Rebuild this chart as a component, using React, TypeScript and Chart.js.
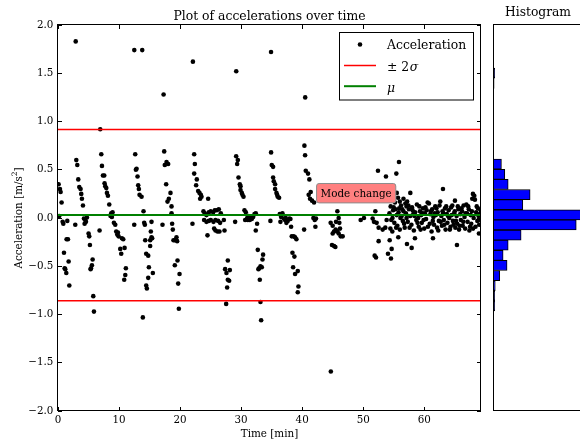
import React, { useEffect, useRef } from 'react';
import { Chart, registerables } from 'chart.js';

Chart.register(...registerables);

// ---------- data (time in minutes, acceleration in m/s^2) ----------
const outliers: [number, number][] = [
  [2.9, 1.83], [12.5, 1.74], [13.8, 1.74], [17.3, 1.28], [22.1, 1.62],
  [29.2, 1.52], [34.9, 1.72], [40.5, 1.25], [44.7, -1.59],
];

const seg0to7: [number, number][] = [
  [0.10, 0.35], [0.21, 0.02], [0.32, 0.30], [0.43, 0.27], [0.59, 0.16], [0.76, -0.04], [0.87, -0.06],
  [0.98, -0.36], [1.09, -0.52], [1.19, -0.53], [1.36, -0.57], [1.41, -0.22], [1.52, -0.03], [1.63, -0.22],
  [1.74, -0.45], [1.85, -0.70], [2.83, -0.07], [3.00, 0.60], [3.16, 0.55], [3.32, 0.40], [3.49, 0.32],
  [3.70, 0.30], [3.81, 0.25], [3.92, 0.20], [4.09, 0.13], [4.25, -0.005], [4.36, -0.06], [4.47, -0.02],
  [4.58, -0.04], [4.74, 0.005], [5.01, -0.16], [5.12, -0.19], [5.23, -0.28], [5.34, -0.53], [5.40, -0.52],
  [5.56, -0.49], [5.67, -0.43], [5.78, -0.81], [5.89, -0.97], [6.81, -0.13], [6.92, 0.92],
];

const seg7to14: [number, number][] = [
  [7.09, 0.66], [7.20, 0.54], [7.36, 0.44], [7.58, 0.44], [7.63, 0.36], [7.74, 0.33], [7.91, 0.31],
  [8.02, 0.26], [8.18, 0.23], [8.40, 0.14], [8.61, 0.02], [8.72, 0.05], [8.83, 0.01], [8.94, 0.06],
  [9.16, -0.05], [9.38, -0.07], [9.54, -0.14], [9.71, -0.17], [9.82, -0.15], [9.92, -0.19], [10.20, -0.32],
  [10.36, -0.37], [10.47, -0.21], [10.69, -0.22], [10.85, -0.64], [10.91, -0.31], [11.02, -0.59],
  [11.12, -0.52], [12.49, -0.07], [12.65, 0.66], [12.76, 0.50], [12.87, 0.51], [13.03, 0.43], [13.14, 0.34],
  [13.25, 0.30], [13.36, 0.24], [13.69, 0.22], [13.90, -1.03],
];

const seg14to20: [number, number][] = [
  [14.01, 0.07], [14.12, -0.05], [14.23, -0.07], [14.29, -0.23], [14.45, -0.37], [14.45, -0.70],
  [14.56, -0.73], [14.78, -0.39], [14.78, -0.62], [14.89, -0.51], [15.10, -0.23], [15.10, -0.29],
  [15.21, -0.14], [15.32, -0.04], [15.32, -0.20], [15.43, -0.21], [15.54, -0.57], [17.12, -0.07],
  [17.40, 0.69], [17.50, 0.55], [17.72, 0.35], [17.78, 0.58], [17.94, 0.17], [18.05, 0.56], [18.16, 0.20],
  [18.43, 0.26], [18.60, 0.12], [18.60, 0.05], [18.70, -0.06], [18.81, -0.12], [18.92, -0.23], [19.14, -0.23],
  [19.14, -0.49], [19.41, -0.20], [19.52, -0.24], [19.58, -0.44], [19.69, -0.68], [19.80, -0.94], [19.91, -0.58],
];

const seg22to27: [number, number][] = [
  [22.03, -0.06], [22.31, 0.66], [22.31, 0.46], [22.42, 0.56], [22.63, 0.34], [22.74, 0.40], [22.96, 0.28],
  [23.18, 0.26], [23.29, 0.20], [23.40, 0.24], [23.51, 0.22], [23.83, 0.07], [23.94, -0.02], [24.05, 0.05],
  [24.32, 0.03], [24.32, -0.04], [24.49, -0.18], [24.60, 0.20], [24.71, 0.06], [24.71, -0.03], [25.03, 0.07],
  [25.03, -0.02], [25.42, 0.06], [25.47, -0.04], [25.58, -0.11], [25.69, 0.08], [25.80, -0.02], [25.80, -0.13],
  [26.02, 0.08], [26.13, -0.14], [26.23, -0.03], [26.34, 0.09], [26.45, -0.14], [26.56, -0.05], [26.67, 0.05],
  [27.17, -0.02], [27.28, -0.13],
];

const seg27to34: [number, number][] = [
  [27.38, -0.53], [27.55, -0.89], [27.60, -0.57], [27.71, -0.72], [27.82, -0.44], [27.82, -0.64], [28.04, -0.65],
  [28.15, -0.54], [29.02, -0.04], [29.19, 0.64], [29.35, 0.56], [29.46, 0.60], [29.57, 0.42], [29.79, 0.35],
  [29.90, 0.33], [29.90, 0.29], [30.11, 0.26], [30.22, 0.24], [30.39, 0.22], [30.55, 0.08], [30.66, -0.02],
  [30.77, 0.06], [30.99, 0.00], [31.10, -0.02], [31.20, 0.02], [31.42, -0.02], [31.53, 0.00], [31.75, -0.01],
  [31.97, 0.01], [32.19, 0.04], [32.40, 0.05], [32.40, -0.13], [32.62, -0.06], [32.73, -0.33], [32.84, -0.53],
  [32.95, -0.52], [33.06, -0.64], [33.17, -0.50], [33.17, -0.87], [33.28, -1.06], [33.39, -0.51], [33.50, -0.43],
  [33.60, -0.38],
];

const seg34to42: [number, number][] = [
  [34.80, -0.03], [34.91, 0.68], [35.02, 0.55], [35.24, 0.53], [35.24, 0.42], [35.35, 0.38], [35.57, 0.35],
  [35.57, 0.30], [35.79, 0.26], [35.90, 0.24], [36.00, 0.22], [36.22, 0.21], [36.33, 0.04], [36.44, -0.04],
  [36.55, 0.01], [36.77, 0.05], [36.99, -0.005], [37.20, -0.02], [37.31, 0.00], [37.42, -0.05], [37.64, -0.03],
  [37.91, -0.005], [38.08, -0.01], [38.19, -0.09], [38.30, -0.19], [38.41, -0.36], [38.52, -0.51], [38.62, -0.19],
  [38.73, -0.40], [38.84, -0.20], [38.84, -0.58], [39.06, -0.22], [39.28, -0.55], [39.28, -0.77], [39.39, -0.71],
  [40.32, -0.12], [40.37, 0.75], [40.48, 0.65], [40.59, 0.49], [40.96, 0.46], [41.07, 0.24], [41.18, 0.40],
  [41.29, 0.20], [41.40, 0.27], [41.62, 0.18], [41.84, 0.00], [41.95, 0.16], [42.06, -0.02], [42.17, -0.09],
  [42.27, -0.005],
];

const seg44to54: [number, number][] = [
  [44.67, -0.05], [44.89, -0.28], [45.00, -0.08], [45.00, -0.16], [45.22, -0.14], [45.22, -0.29], [45.44, -0.30],
  [45.49, -0.12], [45.55, -0.04], [45.77, 0.07], [45.77, -0.14], [45.98, 0.00], [45.98, -0.16], [46.09, -0.05],
  [46.20, -0.11], [46.31, -0.19], [46.64, -0.19], [49.59, -0.02], [50.13, 0.00], [51.55, -0.005], [51.77, -0.04],
  [51.88, -0.39], [51.99, 0.07], [52.10, -0.41], [52.20, -0.05], [52.42, 0.49], [52.53, -0.10], [52.53, -0.24],
  [53.19, -0.12], [53.62, -0.10], [53.73, 0.43], [53.84, -0.02], [54.06, -0.37],
];

const seg54to69Spread: [number, number][] = [
  [54.34, -0.23], [54.45, -0.11], [54.55, -0.42], [54.66, -0.32], [54.77, -0.14], [55.20, 0.16], [55.43, 0.46],
  [55.50, 0.26], [55.70, 0.21], [55.75, -0.20], [55.86, 0.58], [56.00, 0.17], [56.60, 0.20], [56.90, 0.15],
  [57.10, 0.12], [57.17, -0.27], [57.72, 0.26], [57.94, -0.31], [58.48, -0.21], [61.43, -0.21], [63.07, 0.30],
  [65.36, -0.28], [67.87, 0.20], [67.98, 0.25], [68.20, 0.23], [68.30, 0.19], [68.96, -0.16],
];

const seg54to69Band: [number, number][] = [
  [54.3, 0.05], [54.5, 0.12], [54.6, -0.02], [54.8, 0.00], [54.9, 0.08], [55.0, 0.11], [55.1, -0.05], [55.3, 0.09],
  [55.4, -0.10], [55.5, 0.03], [55.6, -0.08], [55.8, 0.06], [55.9, 0.10], [56.0, -0.12], [56.1, 0.00], [56.2, 0.13],
  [56.3, 0.02], [56.4, 0.09], [56.5, -0.03], [56.6, 0.07], [56.7, -0.06], [56.8, -0.10], [57.0, 0.05], [57.1, 0.00],
  [57.2, 0.17], [57.3, -0.04], [57.4, 0.13], [57.5, 0.09], [57.6, -0.10], [57.7, 0.02], [57.9, -0.07], [58.0, 0.11],
  [58.1, 0.08], [58.2, 0.04], [58.3, -0.13], [58.4, 0.02], [58.5, 0.06], [58.7, -0.02], [58.8, 0.14], [58.9, -0.05],
  [59.0, 0.00], [59.1, -0.09], [59.2, 0.12], [59.3, 0.07], [59.4, -0.12], [59.5, 0.03], [59.6, -0.05], [59.7, 0.05],
  [59.8, 0.10], [59.9, -0.02], [60.0, -0.11], [60.1, 0.05], [60.2, 0.11], [60.3, -0.01], [60.4, 0.08], [60.56, 0.16],
  [60.6, -0.09], [60.77, 0.15], [60.9, -0.06], [61.0, 0.04], [61.1, 0.07], [61.2, -0.14], [61.3, 0.09], [61.4, -0.03],
  [61.5, 0.01], [61.6, -0.07], [61.7, 0.05], [61.8, 0.12], [61.9, 0.03], [62.0, 0.10], [62.1, -0.10], [62.2, 0.06],
  [62.3, -0.13], [62.4, -0.03], [62.5, 0.13], [62.63, 0.17], [62.7, -0.04], [62.8, 0.02], [62.9, -0.08], [63.0, 0.07],
  [63.1, 0.05], [63.2, -0.02], [63.3, -0.07], [63.4, 0.10], [63.5, -0.12], [63.6, 0.12], [63.7, 0.04], [63.8, -0.05],
  [63.9, 0.02], [64.0, 0.08], [64.1, 0.00], [64.2, -0.12], [64.3, -0.09], [64.4, 0.11], [64.5, 0.03], [64.6, 0.13],
  [64.7, -0.03], [64.8, -0.07], [64.9, 0.05], [65.0, 0.07], [65.03, 0.18], [65.1, -0.10], [65.2, -0.03], [65.3, 0.02],
  [65.4, -0.06], [65.5, 0.12], [65.6, 0.09], [65.7, -0.12], [65.8, -0.08], [65.9, 0.04], [66.0, -0.02], [66.1, 0.10],
  [66.2, 0.07], [66.3, -0.08], [66.4, -0.04], [66.45, 0.13], [66.6, 0.01], [66.7, -0.11], [66.8, 0.05], [66.9, 0.14],
  [67.0, 0.05], [67.1, -0.04], [67.2, 0.12], [67.3, 0.09], [67.4, -0.13], [67.5, -0.09], [67.6, 0.03], [67.7, -0.06],
  [67.8, 0.07], [68.0, -0.11], [68.1, 0.00], [68.4, -0.09], [68.5, 0.06], [68.6, 0.12], [68.7, -0.03], [68.8, 0.10],
  [68.9, 0.02], [69.0, -0.07], [69.1, 0.04], [69.2, -0.02], [69.25, 0.08],
];

// statistics lines
const MU = 0.03;
const SIGMA = 0.444;

// axes
const X_MIN = 0;
const X_MAX = 69.3;
const Y_MIN = -2;
const Y_MAX = 2;
const X_TICK_STEP = 10;
const Y_TICK_STEP = 0.5;

// histogram (bin centres in m/s^2, counts)
const binCenters = [
  1.807, 1.689, 1.571, 1.453, 1.335, 1.217, 1.099, 0.981, 0.863, 0.745,
  0.627, 0.509, 0.391, 0.273, 0.155, 0.037, -0.081, -0.199, -0.317, -0.435,
  -0.553, -0.671, -0.789, -0.907, -1.025, -1.143, -1.261, -1.379, -1.497, -1.615,
];
const binCounts = [
  1, 3, 2, 0, 1, 1, 0, 0, 1, 1,
  15, 21, 27, 66, 53, 175, 148, 50, 27, 18,
  25, 12, 4, 3, 3, 0, 0, 0, 0, 1,
];
const HIST_MAX = 160;

// annotation
const annotation = { x: 48.85, y: 0.257, text: 'Mode change' };

const SERIF = '"DejaVu Serif", serif';

function fmtY(v: number): string {
  const s = Math.abs(v).toFixed(1);
  return v < -1e-9 ? '\u2212' + s : s;
}

function roundRect(ctx: CanvasRenderingContext2D, x: number, y: number, w: number, h: number, r: number) {
  ctx.beginPath();
  ctx.moveTo(x + r, y);
  ctx.lineTo(x + w - r, y);
  ctx.arcTo(x + w, y, x + w, y + r, r);
  ctx.lineTo(x + w, y + h - r);
  ctx.arcTo(x + w, y + h, x + w - r, y + h, r);
  ctx.lineTo(x + r, y + h);
  ctx.arcTo(x, y + h, x, y + h - r, r);
  ctx.lineTo(x, y + r);
  ctx.arcTo(x, y, x + r, y, r);
  ctx.closePath();
}

const mainOverlay = {
  id: 'mainOverlay',
  afterDatasetsDraw(chart: any) {
    const { ctx, chartArea: a, scales } = chart;
    const xs = scales.x;
    const ys = scales.y;
    ctx.save();

    // annotation box
    ctx.font = `10.4px ${SERIF}`;
    const px = xs.getPixelForValue(annotation.x);
    const py = ys.getPixelForValue(annotation.y);
    const tw = ctx.measureText(annotation.text).width;
    const bw = tw + 8;
    const bh = 19.4;
    roundRect(ctx, px - bw / 2, py - bh / 2, bw, bh, 2.5);
    ctx.fillStyle = '#ff8080';
    ctx.fill();
    ctx.strokeStyle = '#8c8c8c';
    ctx.lineWidth = 1;
    ctx.stroke();
    ctx.fillStyle = '#000';
    ctx.textAlign = 'center';
    ctx.textBaseline = 'alphabetic';
    ctx.fillText(annotation.text, px, py + 3.8);

    // frame
    ctx.strokeStyle = '#000';
    ctx.lineWidth = 1;
    ctx.strokeRect(a.left - 0.5, a.top - 0.5, a.right - a.left, a.bottom - a.top);

    // inward ticks
    const TL = 4;
    ctx.beginPath();
    xs.ticks.forEach((t: any) => {
      const p = Math.floor(xs.getPixelForValue(t.value)) + 0.5;
      ctx.moveTo(p, a.bottom);
      ctx.lineTo(p, a.bottom - TL);
      ctx.moveTo(p, a.top);
      ctx.lineTo(p, a.top + TL);
    });
    ys.ticks.forEach((t: any) => {
      const p = Math.floor(ys.getPixelForValue(t.value)) + 0.5;
      ctx.moveTo(a.left, p);
      ctx.lineTo(a.left + TL, p);
      ctx.moveTo(a.right, p);
      ctx.lineTo(a.right - TL, p);
    });
    ctx.stroke();

    // legend
    const lx = Math.round(a.right - 141.7) + 0.5;
    const ly = Math.round(a.top + 7.3) + 0.5;
    const lw = 134;
    const lh = 67.5;
    ctx.fillStyle = '#fff';
    ctx.fillRect(lx, ly, lw, lh);
    ctx.strokeStyle = '#000';
    ctx.lineWidth = 1;
    ctx.strokeRect(lx, ly, lw, lh);

    ctx.fillStyle = '#000';
    ctx.beginPath();
    ctx.arc(lx + 20.5, ly + 12, 2.3, 0, Math.PI * 2);
    ctx.fill();

    ctx.strokeStyle = '#ff0000';
    ctx.lineWidth = 1.5;
    ctx.beginPath();
    ctx.moveTo(lx + 4.5, ly + 33);
    ctx.lineTo(lx + 36.5, ly + 33);
    ctx.stroke();

    ctx.strokeStyle = '#008000';
    ctx.lineWidth = 2;
    ctx.beginPath();
    ctx.moveTo(lx + 4.5, ly + 53.7);
    ctx.lineTo(lx + 36.5, ly + 53.7);
    ctx.stroke();

    const tx = lx + 47.5;
    ctx.fillStyle = '#000';
    ctx.textAlign = 'left';
    ctx.textBaseline = 'alphabetic';
    ctx.font = `12.4px ${SERIF}`;
    ctx.fillText('Acceleration', tx, ly + 16.5);
    const pm = '\u00b1 2';
    ctx.fillText(pm, tx, ly + 38.3);
    const pmw = ctx.measureText(pm).width;
    ctx.font = `italic 12.4px ${SERIF}`;
    ctx.fillText('\u03c3', tx + pmw + 0.5, ly + 38.3);
    ctx.fillText('\u03bc', tx, ly + 59.5);

    ctx.restore();
  },
  afterDraw(chart: any) {
    const { ctx, chartArea: a } = chart;
    ctx.save();
    ctx.fillStyle = '#000';
    ctx.textBaseline = 'alphabetic';
    ctx.textAlign = 'center';
    const cx = (a.left + a.right) / 2;
    ctx.font = `12.4px ${SERIF}`;
    ctx.fillText('Plot of accelerations over time', cx, 20.2);
    ctx.font = `10.4px ${SERIF}`;
    ctx.fillText('Time [min]', cx, 437);

    // y axis label with superscript
    ctx.translate(21.5, (a.top + a.bottom) / 2);
    ctx.rotate(-Math.PI / 2);
    const main1 = 'Acceleration [m/s';
    const sup = '2';
    const tail = ']';
    ctx.font = `10.4px ${SERIF}`;
    const w1 = ctx.measureText(main1).width;
    const w3 = ctx.measureText(tail).width;
    ctx.font = `7.4px ${SERIF}`;
    const w2 = ctx.measureText(sup).width;
    let x0 = -(w1 + w2 + w3) / 2;
    ctx.textAlign = 'left';
    ctx.font = `10.4px ${SERIF}`;
    ctx.fillText(main1, x0, 0);
    x0 += w1;
    ctx.font = `7.4px ${SERIF}`;
    ctx.fillText(sup, x0, -4.2);
    x0 += w2;
    ctx.font = `10.4px ${SERIF}`;
    ctx.fillText(tail, x0, 0);
    ctx.restore();
  },
};

const histOverlay = {
  id: 'histOverlay',
  afterDraw(chart: any) {
    const { ctx, chartArea: a } = chart;
    ctx.save();
    ctx.strokeStyle = '#000';
    ctx.lineWidth = 1;
    ctx.strokeRect(a.left + 0.5, a.top - 0.5, a.right - a.left, a.bottom - a.top);
    ctx.fillStyle = '#000';
    ctx.font = `12.3px ${SERIF}`;
    ctx.textAlign = 'center';
    ctx.textBaseline = 'alphabetic';
    ctx.fillText('Histogram', (a.left + a.right) / 2, 15.7);
    ctx.restore();
  },
};

export default function App() {
  const mainRef = useRef<HTMLCanvasElement>(null);
  const histRef = useRef<HTMLCanvasElement>(null);

  useEffect(() => {
    const all = [
      ...outliers, ...seg0to7, ...seg7to14, ...seg14to20, ...seg22to27,
      ...seg27to34, ...seg34to42, ...seg44to54, ...seg54to69Spread, ...seg54to69Band,
    ];
    const points = all.map(([x, y]) => ({ x, y }));
    const upper = MU + 2 * SIGMA;
    const lower = MU - 2 * SIGMA;
    const tickFont = { family: '"DejaVu Serif", serif', size: 10.3 };

    const main = new Chart(mainRef.current as HTMLCanvasElement, {
      type: 'scatter',
      data: {
        datasets: [
          {
            label: 'Acceleration',
            data: points,
            pointRadius: 2.3,
            pointHoverRadius: 2.3,
            pointBackgroundColor: '#000',
            pointBorderWidth: 0,
            showLine: false,
            order: 2,
          } as any,
          {
            label: '+2σ',
            data: [{ x: X_MIN, y: upper }, { x: X_MAX, y: upper }],
            showLine: true,
            borderColor: '#ff0000',
            borderWidth: 1.5,
            pointRadius: 0,
            order: 1,
          },
          {
            label: '-2σ',
            data: [{ x: X_MIN, y: lower }, { x: X_MAX, y: lower }],
            showLine: true,
            borderColor: '#ff0000',
            borderWidth: 1.5,
            pointRadius: 0,
            order: 1,
          },
          {
            label: 'μ',
            data: [{ x: X_MIN, y: MU }, { x: X_MAX, y: MU }],
            showLine: true,
            borderColor: '#008000',
            borderWidth: 2,
            pointRadius: 0,
            order: 1,
          },
        ],
      },
      options: {
        responsive: false,
        animation: false,
        devicePixelRatio: 1,
        events: [],
        layout: { padding: { left: 0, right: 99, top: 25, bottom: 0 } },
        plugins: {
          legend: { display: false },
          tooltip: { enabled: false },
          title: { display: false },
        },
        scales: {
          x: {
            type: 'linear',
            min: X_MIN,
            max: X_MAX,
            grid: { display: false, drawTicks: false },
            border: { display: false },
            ticks: {
              stepSize: X_TICK_STEP,
              includeBounds: false,
              padding: 3,
              color: '#000',
              font: tickFont,
              maxRotation: 0,
              autoSkip: false,
            },
            afterFit: (s: any) => { s.height = 30; },
          },
          y: {
            type: 'linear',
            min: Y_MIN,
            max: Y_MAX,
            grid: { display: false, drawTicks: false },
            border: { display: false },
            ticks: {
              stepSize: Y_TICK_STEP,
              padding: 4.7,
              color: '#000',
              font: tickFont,
              callback: (v: any) => fmtY(Number(v)),
            },
            afterFit: (s: any) => { s.width = 58; },
          },
        },
      } as any,
      plugins: [mainOverlay],
    });

    const hist = new Chart(histRef.current as HTMLCanvasElement, {
      type: 'bar',
      data: {
        datasets: [
          {
            data: binCenters.map((c, i) => ({ x: binCounts[i], y: c })),
            backgroundColor: '#0000ff',
            borderColor: '#000',
            borderWidth: 1,
            borderSkipped: false,
            barPercentage: 1,
            categoryPercentage: 1,
          } as any,
        ],
      },
      options: {
        indexAxis: 'y',
        responsive: false,
        animation: false,
        devicePixelRatio: 1,
        events: [],
        layout: { padding: { left: 493, right: 17, top: 25, bottom: 30 } },
        plugins: { legend: { display: false }, tooltip: { enabled: false } },
        scales: {
          x: { type: 'linear', min: 0, max: HIST_MAX, display: false },
          y: { type: 'linear', min: Y_MIN, max: Y_MAX, display: false },
        },
      } as any,
      plugins: [histOverlay],
    });

    return () => {
      main.destroy();
      hist.destroy();
    };
  }, []);

  return (
    <div
      style={{
        position: 'fixed',
        left: 0,
        top: 0,
        width: 580,
        height: 441,
        overflow: 'hidden',
        background: '#fff',
      }}
    >
      <canvas
        ref={mainRef}
        width={580}
        height={441}
        style={{ position: 'absolute', left: 0, top: 0, width: 580, height: 441 }}
      />
      <canvas
        ref={histRef}
        width={600}
        height={441}
        style={{ position: 'absolute', left: 0, top: 0, width: 600, height: 441 }}
      />
    </div>
  );
}
